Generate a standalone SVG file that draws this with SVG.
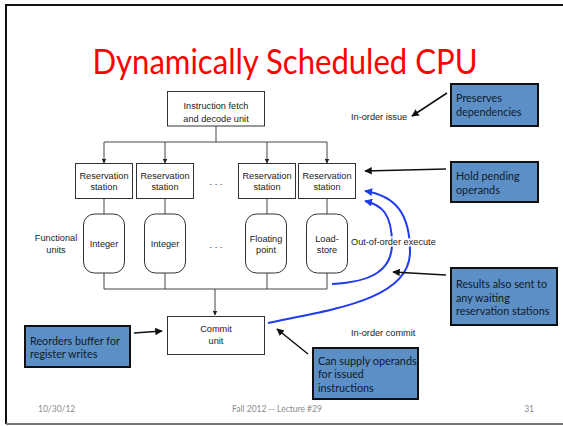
<svg xmlns="http://www.w3.org/2000/svg" width="563" height="426" viewBox="0 0 563 426">
  <style>
    .box { fill: #ffffff; stroke: #333333; stroke-width: 1; }
    .fu { fill: #ffffff; stroke: #333333; stroke-width: 1; }
    .lbl { font-family: "Liberation Sans", Arial, sans-serif; font-size: 9.2px; fill: #222222; text-anchor: middle; }
    .side { font-family: "Liberation Sans", Arial, sans-serif; font-size: 9.2px; fill: #222222; stroke: #ffffff; stroke-width: 3px; paint-order: stroke; }
    .note { fill: #5b8fc6; stroke: #111111; stroke-width: 2; }
    .notetxt { font-family: Lato, "Open Sans", sans-serif; font-size: 10.8px; fill: #111a2a; }
    .wire { fill: none; stroke: #444444; stroke-width: 1; }
    .pointer { fill: none; stroke: #111111; stroke-width: 1.5; }
    .feedback { fill: none; stroke: #1f3cf0; stroke-width: 2; }
    .footer { font-family: Lato, "Open Sans", sans-serif; font-size: 8.5px; fill: #8c8c8c; }
  </style>
  <defs>
    <marker id="ah" viewBox="0 0 10 10" refX="9" refY="5" markerWidth="5" markerHeight="5" orient="auto">
      <path d="M0,0 L10,5 L0,10 z" fill="#222222"/>
    </marker>
    <marker id="ahk" viewBox="0 0 10 10" refX="9" refY="5" markerWidth="5" markerHeight="5" orient="auto">
      <path d="M0,0 L10,5 L0,10 z" fill="#111111"/>
    </marker>
    <marker id="ahb" viewBox="0 0 10 10" refX="9" refY="5" markerWidth="4" markerHeight="4" orient="auto">
      <path d="M0,0 L10,5 L0,10 z" fill="#1f3cf0"/>
    </marker>
  </defs>

  <!-- slide background and frame -->
  <rect x="0" y="0" width="563" height="426" fill="#ffffff"/>
  <path d="M566,5 L6,5 L6,424" fill="none" stroke="#111111" stroke-width="2"/>
  <path d="M6,424 L566,424" fill="none" stroke="#777777" stroke-width="2"/>

  <!-- title -->
  <text x="285" y="74" font-family="Lato, 'Open Sans', sans-serif" font-size="34" fill="#ff0000" text-anchor="middle" textLength="385" lengthAdjust="spacingAndGlyphs">Dynamically Scheduled CPU</text>

  <!-- connectors -->
  <g id="connectors">
    <path class="wire" d="M216,126 V142 M104,142 H327"/>
    <path class="wire" d="M104,142 V163" marker-end="url(#ah)"/>
    <path class="wire" d="M165,142 V163" marker-end="url(#ah)"/>
    <path class="wire" d="M267,142 V163" marker-end="url(#ah)"/>
    <path class="wire" d="M327,142 V163" marker-end="url(#ah)"/>
    <path class="wire" d="M104,198 V214 M165,198 V214 M267,198 V214 M327,198 V214"/>
    <path class="wire" d="M104,273 V289 M165,273 V289 M267,273 V289 M327,273 V289 M104,289 H327"/>
    <path class="wire" d="M215,289 V315" marker-end="url(#ah)"/>

    <!-- result broadcast back to the reservation stations -->
    <path class="feedback" d="M332,284 C372,282 392,270 392,244 C392,214 382,205 365,201" marker-end="url(#ahb)"/>
    <path class="feedback" d="M268,323 C330,310 410,300 410,252 C410,214 396,196 365,191" marker-end="url(#ahb)"/>

    <!-- callout pointers -->
    <path class="pointer" d="M447,93 L412,116" marker-end="url(#ahk)"/>
    <path class="pointer" d="M446,169 L365,171" marker-end="url(#ahk)"/>
    <path class="pointer" d="M446,275 L393,272" marker-end="url(#ahk)"/>
    <path class="pointer" d="M134,333 L162,331" marker-end="url(#ahk)"/>
    <path class="pointer" d="M308,354 L277,329" marker-end="url(#ahk)"/>
  </g>

  <!-- fetch / decode -->
  <g id="fetch">
    <rect class="box" x="167.5" y="91.5" width="97" height="34.5"/>
    <text class="lbl" x="216" y="108.5">Instruction fetch</text>
    <text class="lbl" x="216" y="121.5">and decode unit</text>
  </g>

  <!-- reservation stations -->
  <g id="rs1">
    <rect class="box" x="75.5" y="163.5" width="57" height="35"/>
    <text class="lbl" x="104" y="178.5">Reservation</text>
    <text class="lbl" x="104" y="189.5">station</text>
  </g>
  <g id="rs2">
    <rect class="box" x="136.5" y="163.5" width="57" height="35"/>
    <text class="lbl" x="165" y="178.5">Reservation</text>
    <text class="lbl" x="165" y="189.5">station</text>
  </g>
  <g id="rs-gap">
    <text class="lbl" x="216" y="185">. . .</text>
  </g>
  <g id="rs3">
    <rect class="box" x="238.5" y="163.5" width="57" height="35"/>
    <text class="lbl" x="267" y="178.5">Reservation</text>
    <text class="lbl" x="267" y="189.5">station</text>
  </g>
  <g id="rs4">
    <rect class="box" x="298.5" y="163.5" width="57" height="35"/>
    <text class="lbl" x="327" y="178.5">Reservation</text>
    <text class="lbl" x="327" y="189.5">station</text>
  </g>

  <!-- functional units -->
  <g id="fu-label">
    <text class="lbl" x="56" y="240.5">Functional</text>
    <text class="lbl" x="56" y="253">units</text>
  </g>
  <g id="fu1">
    <rect class="fu" x="83.5" y="214" width="41" height="59" rx="11" ry="11"/>
    <text class="lbl" x="104" y="246.5">Integer</text>
  </g>
  <g id="fu2">
    <rect class="fu" x="144.5" y="214" width="41" height="59" rx="11" ry="11"/>
    <text class="lbl" x="165" y="246.5">Integer</text>
  </g>
  <g id="fu-gap">
    <text class="lbl" x="216" y="248">. . .</text>
  </g>
  <g id="fu3">
    <rect class="fu" x="245.5" y="214" width="41" height="59" rx="11" ry="11"/>
    <text class="lbl" x="266" y="241.5">Floating</text>
    <text class="lbl" x="266" y="252.5">point</text>
  </g>
  <g id="fu4">
    <rect class="fu" x="306.5" y="214" width="41" height="59" rx="11" ry="11"/>
    <text class="lbl" x="327" y="241.5">Load-</text>
    <text class="lbl" x="327" y="252.5">store</text>
  </g>

  <!-- commit -->
  <g id="commit">
    <rect class="box" x="167.5" y="316.5" width="97" height="38"/>
    <text class="lbl" x="216" y="332">Commit</text>
    <text class="lbl" x="216" y="344">unit</text>
  </g>

  <!-- stage labels -->
  <g id="stage-labels">
    <text class="side" x="351" y="120">In-order issue</text>
    <text class="side" x="351" y="244.5">Out-of-order execute</text>
    <text class="side" x="351" y="335.5">In-order commit</text>
  </g>

  <!-- callouts -->
  <g id="note-preserves">
    <rect class="note" x="451" y="84" width="87" height="42"/>
    <text class="notetxt" x="456" y="102">Preserves</text>
    <text class="notetxt" x="456" y="116">dependencies</text>
  </g>
  <g id="note-hold">
    <rect class="note" x="451" y="162" width="87" height="40"/>
    <text class="notetxt" x="456" y="180">Hold pending</text>
    <text class="notetxt" x="456" y="194">operands</text>
  </g>
  <g id="note-results">
    <rect class="note" x="451" y="268" width="106" height="57"/>
    <text class="notetxt" x="456" y="288">Results also sent to</text>
    <text class="notetxt" x="456" y="301.5">any waiting</text>
    <text class="notetxt" x="456" y="315">reservation stations</text>
  </g>
  <g id="note-reorder">
    <rect class="note" x="25" y="326" width="105" height="41"/>
    <text class="notetxt" x="30" y="344.5">Reorders buffer for</text>
    <text class="notetxt" x="30" y="358">register writes</text>
  </g>
  <g id="note-supply">
    <rect class="note" x="313" y="348" width="105" height="51"/>
    <text class="notetxt" x="318" y="365">Can supply operands</text>
    <text class="notetxt" x="318" y="378">for issued</text>
    <text class="notetxt" x="318" y="392">instructions</text>
  </g>

  <!-- footer -->
  <g id="footer">
    <text class="footer" x="38" y="412">10/30/12</text>
    <text class="footer" x="277" y="412" text-anchor="middle">Fall 2012 -- Lecture #29</text>
    <text class="footer" x="534" y="412" text-anchor="end">31</text>
  </g>
</svg>
